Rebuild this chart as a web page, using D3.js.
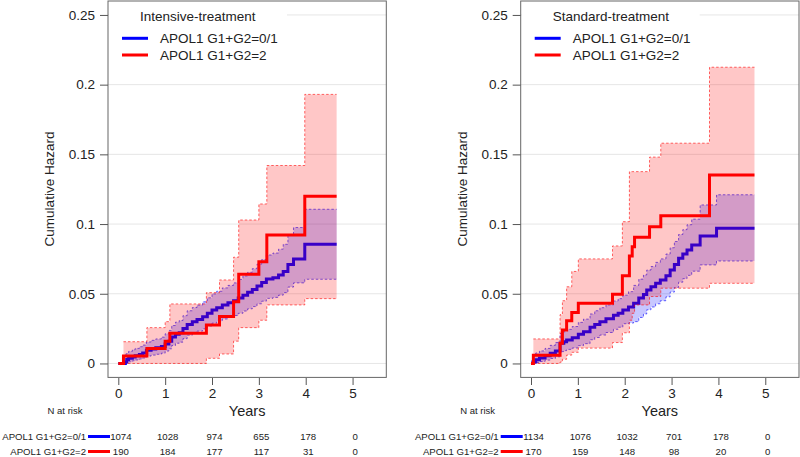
<!DOCTYPE html>
<html><head><meta charset="utf-8">
<script src="https://cdn.jsdelivr.net/npm/d3@7"></script>
<style>
body{margin:0;background:#fff;}
svg{display:block;font-family:"Liberation Sans",Arial,sans-serif;}
</style></head>
<body><svg id="c" width="800" height="457"></svg>
<script>
// ---------- data ----------
const yTicks = [0, 0.05, 0.1, 0.15, 0.2, 0.25];
const yTickLabels = ["0", "0.05", "0.1", "0.15", "0.2", "0.25"];
const xTicks = [0, 1, 2, 3, 4, 5];
const xTickLabels = ["0", "1", "2", "3", "4", "5"];
const groupLabels = ["APOL1 G1+G2=0/1", "APOL1 G1+G2=2"];
const panelTitles = ["Intensive-treatment", "Standard-treatment"];

// Intensive, APOL1 0/1 (blue)
const intBlueT   = [0.15,0.18,0.22,0.30,0.36,0.45,0.52,0.60,0.70,0.80,0.92,1.00,1.08,1.14,1.22,1.30,1.38,1.47,1.58,1.68,1.80,1.90,2.00,2.10,2.22,2.34,2.46,2.56,2.66,2.76,2.86,2.96,3.06,3.16,3.30,3.42,3.52,3.62,3.74,3.98];
const intBlueEst = [0.0010,0.0028,0.0037,0.0047,0.0056,0.0065,0.0075,0.0094,0.0103,0.0112,0.0122,0.0140,0.0160,0.0190,0.0210,0.0220,0.0250,0.0280,0.0300,0.0315,0.0335,0.0360,0.0384,0.0400,0.0420,0.0435,0.0450,0.0470,0.0490,0.0510,0.0530,0.0555,0.0580,0.0605,0.0615,0.0635,0.0660,0.0710,0.0750,0.0855];
const intBlueLo  = [0.0001,0.0007,0.0012,0.0019,0.0025,0.0032,0.0039,0.0053,0.0060,0.0066,0.0074,0.0089,0.0105,0.0129,0.0145,0.0153,0.0178,0.0203,0.0219,0.0232,0.0248,0.0269,0.0289,0.0302,0.0319,0.0332,0.0344,0.0360,0.0376,0.0392,0.0408,0.0428,0.0447,0.0467,0.0474,0.0490,0.0508,0.0548,0.0578,0.0604];
const intBlueHi  = [0.0066,0.0075,0.0087,0.0098,0.0108,0.0120,0.0132,0.0154,0.0166,0.0176,0.0189,0.0213,0.0237,0.0272,0.0296,0.0308,0.0343,0.0378,0.0401,0.0419,0.0442,0.0471,0.0499,0.0518,0.0542,0.0560,0.0578,0.0603,0.0628,0.0654,0.0680,0.0712,0.0745,0.0778,0.0792,0.0820,0.0855,0.0920,0.0975,0.1106];
const intBlueEnd = 4.66;

// Intensive, APOL1 2 (red)
const intRedT   = [0.11,0.61,1.00,1.10,1.88,2.16,2.46,2.57,3.00,3.17,3.98];
const intRedEst = [0.0053,0.0107,0.0160,0.0217,0.0276,0.0336,0.0443,0.0640,0.0730,0.0922,0.1200];
const intRedLo  = [0.0000,0.0000,0.0000,0.0000,0.0037,0.0068,0.0160,0.0257,0.0310,0.0420,0.0465];
const intRedHi  = [0.0156,0.0257,0.0300,0.0427,0.0508,0.0599,0.0762,0.1029,0.1144,0.1420,0.1930];
const intRedEnd = 4.66;

// Standard, APOL1 0/1 (blue)
const stdBlueT   = [0.04,0.10,0.18,0.30,0.41,0.52,0.62,0.70,0.76,0.88,1.01,1.12,1.26,1.36,1.47,1.60,1.76,1.86,1.96,2.08,2.19,2.30,2.40,2.47,2.56,2.66,2.76,2.88,2.97,3.06,3.15,3.24,3.33,3.43,3.61,3.96];
const stdBlueEst = [0.0010,0.0027,0.0040,0.0055,0.0073,0.0090,0.0145,0.0155,0.0169,0.0185,0.0210,0.0228,0.0260,0.0280,0.0300,0.0320,0.0345,0.0360,0.0384,0.0405,0.0432,0.0470,0.0495,0.0527,0.0550,0.0575,0.0599,0.0630,0.0670,0.0710,0.0755,0.0785,0.0814,0.0850,0.0915,0.0970];
const stdBlueLo  = [0.0001,0.0007,0.0014,0.0024,0.0036,0.0048,0.0085,0.0092,0.0101,0.0111,0.0128,0.0142,0.0170,0.0186,0.0204,0.0222,0.0245,0.0260,0.0285,0.0290,0.0300,0.0330,0.0355,0.0385,0.0405,0.0428,0.0450,0.0478,0.0512,0.0545,0.0583,0.0608,0.0632,0.0662,0.0707,0.0735];
const stdBlueHi  = [0.0055,0.0075,0.0090,0.0108,0.0130,0.0150,0.0215,0.0228,0.0245,0.0265,0.0295,0.0318,0.0355,0.0378,0.0400,0.0420,0.0448,0.0465,0.0490,0.0515,0.0560,0.0605,0.0635,0.0670,0.0695,0.0725,0.0750,0.0785,0.0830,0.0875,0.0925,0.0960,0.0995,0.1035,0.1137,0.1210];
const stdBlueEnd = 4.77;

// Standard, APOL1 2 (red)
const stdRedT   = [0.05,0.62,0.67,0.76,0.87,1.01,1.74,1.95,2.10,2.16,2.21,2.53,2.77,3.81];
const stdRedEst = [0.0059,0.0145,0.0240,0.0307,0.0365,0.0432,0.0496,0.0630,0.0771,0.0838,0.0905,0.0981,0.1060,0.1352];
const stdRedLo  = [0.0000,0.0010,0.0030,0.0060,0.0080,0.0110,0.0150,0.0220,0.0310,0.0360,0.0420,0.0480,0.0540,0.0575];
const stdRedHi  = [0.0176,0.0350,0.0450,0.0550,0.0660,0.0750,0.0843,0.1017,0.1376,0.1376,0.1376,0.1480,0.1580,0.2125];
const stdRedEnd = 4.77;

// numbers at risk
const intRiskBlue = [1074, 1028, 974, 655, 178, 0];
const intRiskRed  = [190, 184, 177, 117, 31, 0];
const stdRiskBlue = [1134, 1076, 1032, 701, 178, 0];
const stdRiskRed  = [170, 159, 148, 98, 20, 0];

// ---------- drawing ----------
const svg = d3.select("#c");
const BLUE = "#0000FF", RED = "#FF0000";
const plotTop = 1, plotBottom = 377.4, boxW = 278.3;

function series(T, E, L, H, end) {
  const est = [{t: 0, v: 0}].concat(T.map((t, i) => ({t, v: E[i]}))).concat([{t: end, v: E[E.length - 1]}]);
  const band = T.map((t, i) => ({t, lo: L[i], hi: H[i]})).concat([{t: end, lo: L[L.length - 1], hi: H[H.length - 1]}]);
  return {est, band};
}

function panel(x0, idx, blue, red, riskBlue, riskRed) {
  const g = svg.append("g");
  const x = d3.scaleLinear().domain([-0.22, 5.72]).range([x0, x0 + boxW]);
  const y = d3.scaleLinear().domain([-0.01, 0.26]).range([plotBottom, plotTop]);
  const cid = "clip" + idx;
  g.append("clipPath").attr("id", cid).append("rect")
    .attr("x", x0).attr("y", plotTop).attr("width", boxW).attr("height", plotBottom - plotTop);

  // grid
  g.append("g").selectAll("line").data(yTicks).join("line")
    .attr("x1", x0).attr("x2", x0 + boxW)
    .attr("y1", d => y(d)).attr("y2", d => y(d))
    .attr("stroke", "#e6e6e6").attr("stroke-width", 1);

  const area = d3.area().curve(d3.curveStepAfter).x(d => x(d.t)).y0(d => y(d.lo)).y1(d => y(d.hi));
  const lineLo = d3.line().curve(d3.curveStepAfter).x(d => x(d.t)).y(d => y(d.lo));
  const lineHi = d3.line().curve(d3.curveStepAfter).x(d => x(d.t)).y(d => y(d.hi));
  const lineEst = d3.line().curve(d3.curveStepAfter).x(d => x(d.t)).y(d => y(d.v));

  const pg = g.append("g").attr("clip-path", `url(#${cid})`);
  function drawBand(s, col) {
    pg.append("path").attr("d", area(s.band)).attr("fill", col).attr("fill-opacity", 0.22);
    [lineLo, lineHi].forEach(fn => pg.append("path").attr("d", fn(s.band))
      .attr("fill", "none").attr("stroke", col).attr("stroke-opacity", 0.75)
      .attr("stroke-width", 0.8).attr("stroke-dasharray", "2.5,2"));
  }
  drawBand(blue, BLUE);
  pg.append("path").attr("d", lineEst(blue.est)).attr("fill", "none").attr("stroke", BLUE).attr("stroke-width", 3);
  drawBand(red, RED);
  pg.append("path").attr("d", lineEst(red.est)).attr("fill", "none").attr("stroke", RED).attr("stroke-width", 3);

  // legend
  const lg = g.append("g");
  lg.append("rect").attr("x", x0 + 1).attr("y", plotTop + 1).attr("width", 178).attr("height", 64).attr("fill", "#fff");
  lg.append("text").attr("x", x0 + 32).attr("y", 21).attr("font-size", 13.5).attr("fill", "#222").text(panelTitles[idx]);
  [BLUE, RED].forEach((c, i) => {
    const yy = 38.3 + i * 16.7;
    lg.append("line").attr("x1", x0 + 14).attr("x2", x0 + 40).attr("y1", yy).attr("y2", yy)
      .attr("stroke", c).attr("stroke-width", 3);
    lg.append("text").attr("x", x0 + 52).attr("y", yy).attr("dy", "0.36em")
      .attr("font-size", 13.5).attr("fill", "#222").text(groupLabels[i]);
  });

  // box
  g.append("rect").attr("x", x0).attr("y", plotTop).attr("width", boxW).attr("height", plotBottom - plotTop)
    .attr("fill", "none").attr("stroke", "#666").attr("stroke-width", 1);

  // axes
  const ya = d3.axisLeft(y).tickValues(yTicks).tickFormat((d, i) => yTickLabels[i]).tickSize(8).tickPadding(5);
  const yg = g.append("g").attr("transform", `translate(${x0},0)`).call(ya);
  yg.select(".domain").remove();
  yg.selectAll("line").attr("stroke", "#555");
  yg.selectAll("text").attr("font-size", 13.5).attr("fill", "#222").attr("font-family", "Liberation Sans, Arial, sans-serif");

  const xa = d3.axisBottom(x).tickValues(xTicks).tickFormat((d, i) => xTickLabels[i]).tickSize(7).tickPadding(3);
  const xg = g.append("g").attr("transform", `translate(0,${plotBottom + 0.6})`).call(xa);
  xg.select(".domain").remove();
  xg.selectAll("line").attr("stroke", "#555");
  xg.selectAll("text").attr("font-size", 13.5).attr("fill", "#222").attr("font-family", "Liberation Sans, Arial, sans-serif");

  // axis titles
  g.append("text").attr("x", x0 + boxW / 2).attr("y", 416).attr("text-anchor", "middle")
    .attr("font-size", 14.5).attr("fill", "#222").text("Years");
  g.append("text").attr("transform", `translate(${x0 - 54},189) rotate(-90)`).attr("text-anchor", "middle")
    .attr("font-size", 13.5).attr("fill", "#222").text("Cumulative Hazard");

  // risk table
  g.append("text").attr("x", x0 - 43).attr("y", 411).attr("dy", "0.35em").attr("text-anchor", "middle")
    .attr("font-size", 9.5).attr("fill", "#222").text("N at risk");
  [[riskBlue, BLUE, 436.5], [riskRed, RED, 451.5]].forEach(([vals, c, yy], i) => {
    g.append("text").attr("x", x0 - 22).attr("y", yy).attr("dy", "0.35em").attr("text-anchor", "end")
      .attr("font-size", 9.6).attr("fill", "#222").text(groupLabels[i]);
    g.append("line").attr("x1", x0 - 20).attr("x2", x0 + 2).attr("y1", yy).attr("y2", yy)
      .attr("stroke", c).attr("stroke-width", 3);
    g.append("g").selectAll("text").data(vals).join("text")
      .attr("x", (d, j) => x(xTicks[j]) + 2.5).attr("y", yy).attr("dy", "0.35em").attr("text-anchor", "middle")
      .attr("font-size", 9.6).attr("fill", "#222").text(d => d);
  });
}

panel(108, 0,
  series(intBlueT, intBlueEst, intBlueLo, intBlueHi, intBlueEnd),
  series(intRedT, intRedEst, intRedLo, intRedHi, intRedEnd),
  intRiskBlue, intRiskRed);
panel(520.7, 1,
  series(stdBlueT, stdBlueEst, stdBlueLo, stdBlueHi, stdBlueEnd),
  series(stdRedT, stdRedEst, stdRedLo, stdRedHi, stdRedEnd),
  stdRiskBlue, stdRiskRed);
</script></body></html>
